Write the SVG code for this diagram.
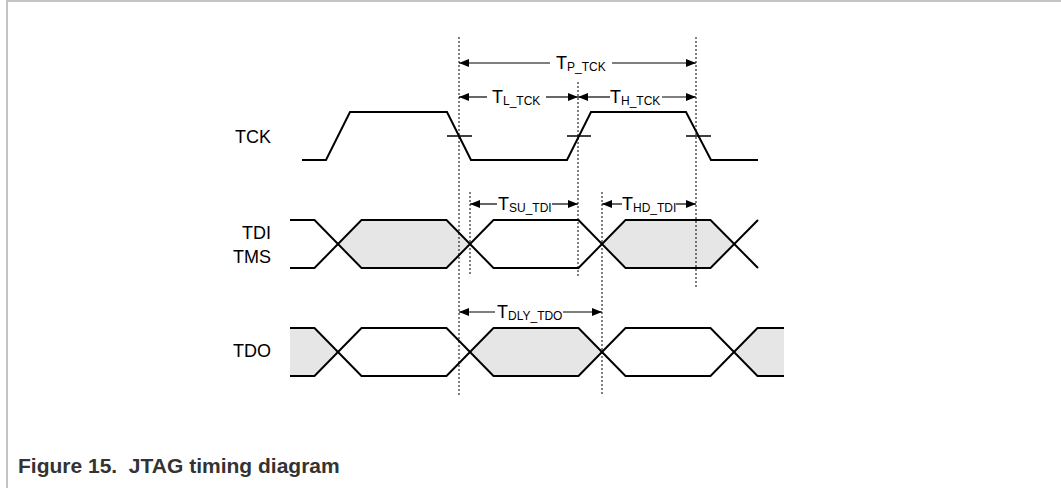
<svg xmlns="http://www.w3.org/2000/svg" width="1061" height="488" viewBox="0 0 1061 488">
<defs>
<style>
.frame{stroke:#c4c4c4;stroke-width:2;fill:none}
.sig{stroke:#000;stroke-width:2;fill:none;stroke-linejoin:miter}
.shade{fill:#e6e6e6;stroke:none}
.dash{stroke:#000;stroke-width:1;stroke-dasharray:2,2;fill:none}
.tick{stroke:#000;stroke-width:1.5;fill:none}
.dim{stroke:#000;stroke-width:1.2;fill:none}
.lbl{font-family:"Liberation Sans",Arial,sans-serif;font-size:18px;fill:#000}
.t{font-family:"Liberation Sans",Arial,sans-serif;font-size:18px;fill:#000}
.sub{font-size:12px}
.cap{font-family:"Liberation Sans",Arial,sans-serif;font-size:21px;font-weight:bold;fill:#333}
</style>
<marker id="ah" viewBox="0 0 10 8" refX="10" refY="4" markerWidth="10" markerHeight="8" markerUnits="userSpaceOnUse" orient="auto">
<path d="M0,0 L10,4 L0,8 Z" fill="#000"/>
</marker>
</defs>
<rect width="1061" height="488" fill="#fff"/>
<g id="frame">
<line class="frame" x1="7" y1="1" x2="1061" y2="1"/>
<line class="frame" x1="7" y1="0" x2="7" y2="488"/>
</g>
<g id="shading">
<polygon class="shade" points="338,244 361.5,220 446.5,220 470,244 446.5,268 361.5,268"/>
<polygon class="shade" points="602,244 625.5,220 710.5,220 734,244 710.5,268 625.5,268"/>
<polygon class="shade" points="290,328 314.5,328 338,352 314.5,376 290,376"/>
<polygon class="shade" points="470,352 493.5,328 578.5,328 602,352 578.5,376 493.5,376"/>
<polygon class="shade" points="734,352 757.5,328 784,328 784,376 757.5,376"/>
</g>
<g id="TCK">
<text class="lbl" x="271" y="143" text-anchor="end">TCK</text>
<polyline class="sig" points="302,160 326,160 350,112 447,112 471,160 567,160 591,112 686,112 711,160 758,160"/>
<line class="tick" x1="447" y1="136" x2="472" y2="136"/>
<line class="tick" x1="567" y1="136" x2="591" y2="136"/>
<line class="tick" x1="686" y1="136" x2="711" y2="136"/>
</g>
<g id="TDI_TMS">
<text class="lbl" x="271" y="239" text-anchor="end">TDI</text>
<text class="lbl" x="271" y="263" text-anchor="end">TMS</text>
<polyline class="sig" points="290,220 314.5,220 361.5,268 446.5,268 493.5,220 578.5,220 625.5,268 710.5,268 758,220"/>
<polyline class="sig" points="290,268 314.5,268 361.5,220 446.5,220 493.5,268 578.5,268 625.5,220 710.5,220 758,268"/>
</g>
<g id="TDO">
<text class="lbl" x="271" y="357" text-anchor="end">TDO</text>
<polyline class="sig" points="290,328 314.5,328 361.5,376 446.5,376 493.5,328 578.5,328 625.5,376 710.5,376 757.5,328 784,328"/>
<polyline class="sig" points="290,376 314.5,376 361.5,328 446.5,328 493.5,376 578.5,376 625.5,328 710.5,328 757.5,376 784,376"/>
</g>
<g id="connectors">
<line class="dash" x1="459" y1="37" x2="459" y2="397"/>
<line class="dash" x1="578" y1="82" x2="578" y2="277"/>
<line class="dash" x1="696" y1="37" x2="696" y2="288"/>
<line class="dash" x1="470" y1="192" x2="470" y2="275"/>
<line class="dash" x1="602" y1="192" x2="602" y2="395"/>
<line class="dim" x1="550" y1="63" x2="459" y2="63" marker-end="url(#ah)"/>
<line class="dim" x1="612" y1="63" x2="696" y2="63" marker-end="url(#ah)"/>
<line class="dim" x1="487" y1="97" x2="459" y2="97" marker-end="url(#ah)"/>
<line class="dim" x1="546" y1="97" x2="578" y2="97" marker-end="url(#ah)"/>
<line class="dim" x1="610" y1="97" x2="578" y2="97" marker-end="url(#ah)"/>
<line class="dim" x1="662" y1="97" x2="696" y2="97" marker-end="url(#ah)"/>
<line class="dim" x1="497" y1="204" x2="470" y2="204" marker-end="url(#ah)"/>
<line class="dim" x1="552" y1="204" x2="578" y2="204" marker-end="url(#ah)"/>
<line class="dim" x1="622" y1="204" x2="602" y2="204" marker-end="url(#ah)"/>
<line class="dim" x1="676" y1="204" x2="696" y2="204" marker-end="url(#ah)"/>
<line class="dim" x1="495" y1="312" x2="459" y2="312" marker-end="url(#ah)"/>
<line class="dim" x1="563" y1="312" x2="602" y2="312" marker-end="url(#ah)"/>
</g>
<g id="labels">
<text class="t" x="556" y="69">T<tspan class="sub" dy="2">P_TCK</tspan></text>
<text class="t" x="492" y="103">T<tspan class="sub" dy="2">L_TCK</tspan></text>
<text class="t" x="610" y="103">T<tspan class="sub" dy="2">H_TCK</tspan></text>
<text class="t" x="498" y="210">T<tspan class="sub" dy="2">SU_TDI</tspan></text>
<text class="t" x="622" y="210">T<tspan class="sub" dy="2">HD_TDI</tspan></text>
<text class="t" x="497" y="318">T<tspan class="sub" dy="2">DLY_TDO</tspan></text>
</g>
<g id="caption">
<text class="cap" x="18" y="473" xml:space="preserve">Figure 15.  JTAG timing diagram</text>
</g>
</svg>
